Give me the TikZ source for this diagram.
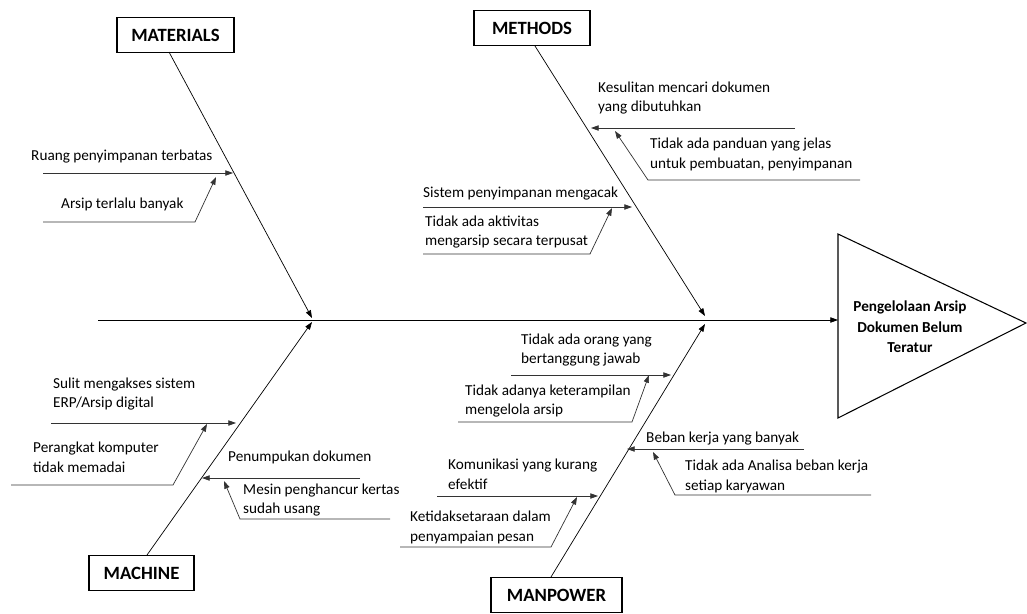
\documentclass[tikz,border=0pt]{standalone}
\usepackage{fontspec}
\setmainfont{Carlito}
\usetikzlibrary{arrows.meta}
\tikzset{
  category/.style={draw, line width=0.9pt, inner sep=0pt, minimum height=1.07cm,
    font=\fontsize{16}{19}\selectfont\bfseries},
  cause/.style={anchor=west, align=left, inner sep=0pt, font=\fontsize{13}{17}\selectfont},
  bone/.style={-{Triangle[length=2.3mm,width=1.6mm]}, line width=0.6pt},
  twig/.style={-{Triangle[length=2.3mm,width=1.6mm]}, line width=0.6pt, black!80},
}
\begin{document}
\begin{tikzpicture}[x=0.03cm,y=-0.03cm]
\useasboundingbox (0,0) rectangle (1027,614);
%%%%%%%%%%%%%%%%%%%%%%%%%%%%%%% head and spine
\coordinate(eTop) at (838,234);
\coordinate(eBot) at (838,418);
\coordinate(eTip) at (1026,323);
\coordinate(eIn) at (838,320);
\coordinate(tail) at (98,320);
\draw[line width=0.9pt] (eTop) -- (eTip) -- (eBot) -- cycle;
\node(effect) at (910,327)[align=center, font=\fontsize{13}{17.5}\selectfont\bfseries]{Pengelolaan Arsip\\Dokumen Belum\\Teratur};
\draw[bone] (tail) -- (eIn);
%%%%%%%%%%%%%%%%%%%%%%%%%%%%%%% categories
\node(materials) at (175.5,35)[category, minimum width=3.51cm]{MATERIALS};
\node(methods) at (532,28)[category, minimum width=3.48cm]{METHODS};
\node(machine) at (141.5,573)[category, minimum width=3.15cm]{MACHINE};
\node(manpower) at (556.5,595)[category, minimum width=3.93cm]{MANPOWER};
\coordinate(matFoot) at (169,52);
\coordinate(metFoot) at (535,46);
\coordinate(macFoot) at (147,555);
\coordinate(manFoot) at (551,577);
\coordinate(jMat) at (312,318);
\coordinate(jMac) at (312,322);
\coordinate(jMet) at (705,316);
\coordinate(jMan) at (705,324);
\draw[bone] (matFoot) -- (jMat);
\draw[bone] (macFoot) -- (jMac);
\draw[bone] (metFoot) -- (jMet);
\draw[bone] (manFoot) -- (jMan);
%%%%%%%%%%%%%%%%%%%%%%%%%%%%%%% materials
\node(ruang) at (31,157)[cause]{Ruang penyimpanan terbatas};
\node(arsip) at (61,204)[cause]{Arsip terlalu banyak};
\coordinate(ruangA) at (43,173);
\coordinate(ruangB) at (233,173);
\coordinate(arsipA) at (43,222);
\coordinate(arsipC) at (195,222);
\coordinate(arsipB) at (216,177);
\draw[twig] (ruangA) -- (ruangB);
\draw[twig] (arsipA) -- (arsipC) -- (arsipB);
%%%%%%%%%%%%%%%%%%%%%%%%%%%%%%% methods
\node(sulitCari) at (598,98)[cause]{Kesulitan mencari dokumen\\yang dibutuhkan};
\node(panduan) at (650,154)[cause]{Tidak ada panduan yang jelas\\untuk pembuatan, penyimpanan};
\node(acak) at (423,194)[cause]{Sistem penyimpanan mengacak};
\node(aktivitas) at (425,232)[cause]{Tidak ada aktivitas\\mengarsip secara terpusat};
\coordinate(sulitCariA) at (795,128);
\coordinate(sulitCariB) at (591,128);
\coordinate(panduanA) at (860,180);
\coordinate(panduanC) at (648,180);
\coordinate(panduanB) at (615,131);
\coordinate(acakA) at (423,207);
\coordinate(acakB) at (632,207);
\coordinate(aktivitasA) at (423,254);
\coordinate(aktivitasC) at (590,254);
\coordinate(aktivitasB) at (612,208);
\draw[twig] (sulitCariA) -- (sulitCariB);
\draw[twig] (panduanA) -- (panduanC) -- (panduanB);
\draw[twig] (acakA) -- (acakB);
\draw[twig] (aktivitasA) -- (aktivitasC) -- (aktivitasB);
%%%%%%%%%%%%%%%%%%%%%%%%%%%%%%% machine
\node(erp) at (53,394)[cause]{Sulit mengakses sistem\\ERP/Arsip digital};
\node(komputer) at (33,457)[cause]{Perangkat komputer\\tidak memadai};
\node(tumpuk) at (228,457)[cause]{Penumpukan dokumen};
\node(mesin) at (243,500)[cause]{Mesin penghancur kertas\\sudah usang};
\coordinate(erpA) at (51,423);
\coordinate(erpB) at (236,423);
\coordinate(komputerA) at (11,485);
\coordinate(komputerC) at (173,485);
\coordinate(komputerB) at (207,424);
\coordinate(tumpukA) at (360,478);
\coordinate(tumpukB) at (202,478);
\coordinate(mesinA) at (390,519);
\coordinate(mesinC) at (240,519);
\coordinate(mesinB) at (224,481);
\draw[twig] (erpA) -- (erpB);
\draw[twig] (komputerA) -- (komputerC) -- (komputerB);
\draw[twig] (tumpukA) -- (tumpukB);
\draw[twig] (mesinA) -- (mesinC) -- (mesinB);
%%%%%%%%%%%%%%%%%%%%%%%%%%%%%%% manpower
\node(tanggung) at (521,350)[cause]{Tidak ada orang yang\\bertanggung jawab};
\node(terampil) at (465,401)[cause]{Tidak adanya keterampilan\\mengelola arsip};
\node(beban) at (646,439)[cause]{Beban kerja yang banyak};
\node(analisa) at (685,476)[cause]{Tidak ada Analisa beban kerja\\setiap karyawan};
\node(komunikasi) at (448,474)[cause]{Komunikasi yang kurang\\efektif};
\node(setara) at (410,527)[cause]{Ketidaksetaraan dalam\\penyampaian pesan};
\coordinate(tanggungA) at (511,375);
\coordinate(tanggungB) at (671,375);
\coordinate(terampilA) at (458,422);
\coordinate(terampilC) at (632,422);
\coordinate(terampilB) at (649,375);
\coordinate(bebanA) at (804,449);
\coordinate(bebanB) at (627,449);
\coordinate(analisaA) at (871,495);
\coordinate(analisaC) at (675,495);
\coordinate(analisaB) at (653,452);
\coordinate(komunikasiA) at (437,496);
\coordinate(komunikasiB) at (598,496);
\coordinate(setaraA) at (400,547);
\coordinate(setaraC) at (551,547);
\coordinate(setaraB) at (577,497);
\draw[twig] (tanggungA) -- (tanggungB);
\draw[twig] (terampilA) -- (terampilC) -- (terampilB);
\draw[twig] (bebanA) -- (bebanB);
\draw[twig] (analisaA) -- (analisaC) -- (analisaB);
\draw[twig] (komunikasiA) -- (komunikasiB);
\draw[twig] (setaraA) -- (setaraC) -- (setaraB);
\end{tikzpicture}
\end{document}
